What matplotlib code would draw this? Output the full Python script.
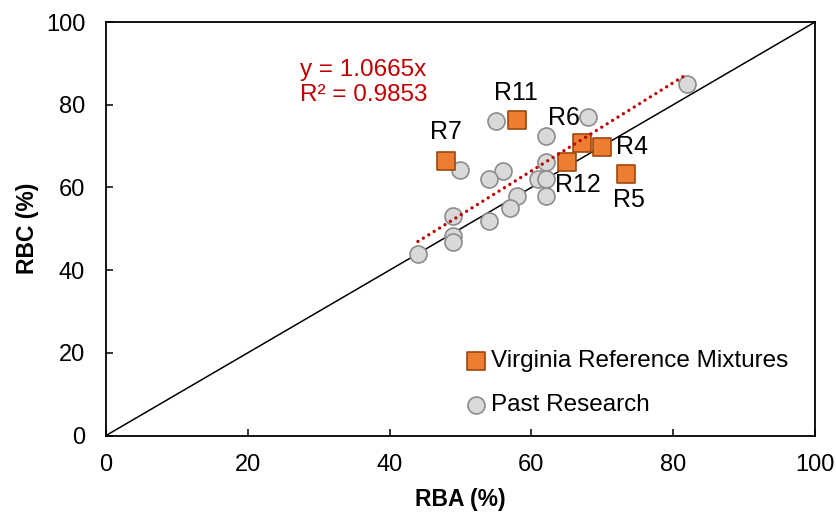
import numpy as np
import matplotlib.pyplot as plt

plt.rcParams['font.family'] = ['Liberation Sans', 'DejaVu Sans']

# Past research (circles)
past_rba = [55, 68, 62, 62, 50, 56, 54, 61, 62, 58, 62, 57, 49, 54, 49, 49, 44, 82]
past_rbc = [76, 77, 72.4, 66.2, 64.2, 64, 62.1, 62.1, 62.1, 57.9, 57.9, 55.1, 53.1, 51.9, 48.3, 46.8, 44, 85.1]

# Virginia reference mixtures (squares)
va_names = ['R11', 'R7', 'R6', 'R4', 'R12', 'R5']
va_rba = [58, 48, 67.2, 70, 65, 73.4]
va_rbc = [76.4, 66.4, 70.8, 69.8, 66.1, 63.3]
label_pos = [(57.8, 82.8), (48.0, 73.4), (64.6, 76.8), (74.2, 69.7), (66.6, 60.5), (73.8, 56.9)]

slope = 1.0665
fit_x = np.array([44, 82])

fig = plt.figure(figsize=(8.36, 5.13), dpi=100)
ax = fig.add_axes([0.1268, 0.151, 0.848, 0.806])

ax.plot([0, 100], [0, 100], color='black', lw=1.1, zorder=1)
ax.plot(fit_x, slope * fit_x, color='#C00000', lw=2.4, ls=(0, (0.01, 1.9)),
        dash_capstyle='round', zorder=4)

ax.scatter(past_rba, past_rbc, s=150, marker='o', facecolor='#D9D9D9', edgecolor='#8C8C8C',
           linewidth=1.2, zorder=3, label='Past Research')
ax.scatter(va_rba, va_rbc, s=150, marker='s', facecolor='#ED7D31', edgecolor='#9E480E',
           linewidth=1.2, zorder=3, label='Virginia Reference Mixtures')

for name, (lx, ly) in zip(va_names, label_pos):
    ax.text(lx, ly, name, fontsize=18, ha='center', va='center')

ax.text(27.4, 88.5, 'y = 1.0665x', color='#C00000', fontsize=17.5, va='center')
ax.text(27.4, 82.4, 'R² = 0.9853', color='#C00000', fontsize=17.5, va='center')

ax.set_xlim(0, 100)
ax.set_ylim(0, 100)
ax.set_xticks(range(0, 101, 20))
ax.set_yticks(range(0, 101, 20))
ax.tick_params(direction='in', length=5, width=1.1, labelsize=17)
ax.tick_params(axis='x', pad=13)
ax.tick_params(axis='y', pad=15)
for sp in ax.spines.values():
    sp.set_linewidth(1.3)

ax.set_xlabel('RBA (%)', fontsize=16.5, fontweight='bold', labelpad=9)
ax.set_ylabel('RBC (%)', fontsize=16.5, fontweight='bold', labelpad=5)

handles, labels = ax.get_legend_handles_labels()
ax.legend(handles[::-1], labels[::-1], loc='upper left', bbox_to_anchor=(0.49, 0.23),
          frameon=False, fontsize=17.5, handletextpad=0.05, handlelength=1.1,
          labelspacing=0.9, borderaxespad=0)

fig.savefig('out.png', dpi=100)
